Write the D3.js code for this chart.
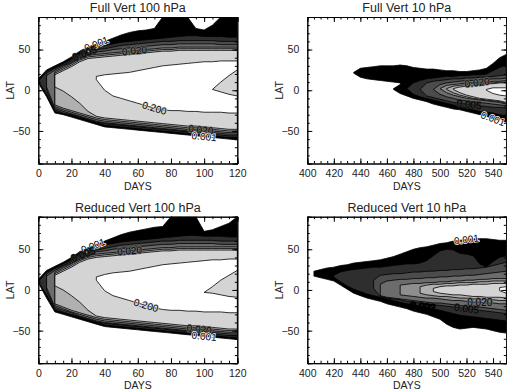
<!DOCTYPE html>
<html>
<head>
<meta charset="utf-8">
<script src="https://cdn.jsdelivr.net/npm/d3@7"></script>
<style>
body { margin: 0; background: #fff; }
svg { display: block; font-family: "Liberation Sans", Arial, sans-serif; }
</style>
</head>
<body>
<div id="chart"></div>
<script>
(function () {
	var width = 507;
	var height = 392;

	// contour levels and the fill of the region above each level
	var levelNames = ["0.001", "0.002", "0.005", "0.010", "0.020", "0.050", "0.100", "0.200"];
	var shades = ["#000000", "#2e2e2e", "#4c4c4c", "#6c6c6c", "#8e8e8e", "#b0b0b0", "#d4d4d4", "#ffffff"];

	var days100 = [0, 5, 10, 15, 20, 25, 30, 35, 40, 45, 50, 55, 60, 65, 70, 75, 80, 85, 90, 95, 100, 105, 110, 115, 120];
	var days10 = [400, 405, 410, 415, 420, 425, 430, 435, 440, 445, 450, 455, 460, 465, 470, 475, 480, 485, 490, 495,
		500, 505, 510, 515, 520, 525, 530, 535, 540, 545, 550];
	var xTicks100 = [0, 20, 40, 60, 80, 100, 120];
	var xTicks10 = [400, 420, 440, 460, 480, 500, 520, 540];
	var yTicks = [-50, 0, 50];

	// [level index, first day, upper latitude edge, lower latitude edge]
	var fullVert100 = [
		[0, 0, [14,25,30,35,41,48,53,57,60,64,68,71,73,74,76,90,90,90,90,76,74,80,90,90,90],
			[9,-8,-28,-30,-33,-36,-39,-42,-45,-46,-47,-48,-49,-50,-51,-52,-53,-54,-55,-56,-57,-58,-59,-60,-61]],
		[1, 0, [11,23,28,33,38,45,50,53,55,57,59,60,61,62,63,64,65,66,67,67,66,66,66,65,65],
			[11,-5,-26,-29,-31,-34,-37,-40,-43,-44,-45,-46,-47,-48,-49,-50,-51,-52,-53,-54,-55,-56,-57,-58,-58]],
		[2, 5, [21,27,31,36,43,47,50,51,53,55,56,57,58,59,60,60,61,61,61,61,61,60,60,60],
			[0,-24,-28,-30,-33,-36,-39,-41,-42,-43,-44,-45,-46,-47,-48,-49,-50,-51,-52,-53,-54,-55,-56,-56]],
		[3, 5, [18,25,30,34,41,45,47,48,50,51,52,53,54,55,56,56,57,57,57,57,57,56,56,56],
			[4,-22,-26,-29,-32,-35,-38,-40,-41,-42,-43,-44,-45,-46,-47,-48,-49,-50,-50,-51,-52,-53,-54,-54]],
		[4, 10, [23,28,33,39,43,44,45,46,47,48,49,50,51,52,52,53,53,53,53,53,53,53,53],
			[-20,-24,-27,-30,-33,-36,-38,-39,-40,-41,-42,-43,-44,-45,-46,-47,-48,-48,-49,-50,-51,-52,-52]],
		[5, 10, [21,26,31,37,41,42,43,44,45,46,47,48,49,50,50,51,51,51,51,51,51,51,51],
			[-18,-22,-25,-28,-31,-34,-36,-37,-38,-39,-40,-41,-42,-43,-44,-45,-46,-46,-47,-48,-49,-50,-50]],
		[6, 10, [19,24,29,35,39,40,41,42,43,44,45,46,47,48,48,49,49,49,49,49,49,49,49],
			[4,-1,-8,-16,-26,-32,-34,-35,-36,-37,-38,-39,-40,-41,-42,-43,-44,-44,-45,-46,-47,-48,-48]],
		[7, 35, [17,19,20,21,22,24,26,28,30,31,32,33,34,35,35,36,36,36],
			[13,0,-7,-10,-13,-16,-19,-22,-24,-25,-25,-26,-26,-27,-27,-27,-28,-28]],
		[6, 105, [1,10,18,25], [1,-2,-5,-7]]
	];

	var reducedVert100 = [
		[0, 0, [13,24,29,34,40,47,52,56,60,64,68,71,73,75,77,78,90,90,90,90,72,74,78,82,90],
			[9,-10,-27,-30,-33,-36,-39,-42,-45,-46,-47,-48,-49,-50,-51,-52,-53,-54,-55,-56,-57,-58,-59,-60,-61]],
		[1, 0, [10,22,27,32,37,44,49,52,55,57,59,60,61,62,63,64,65,66,67,67,66,66,66,65,65],
			[10,-6,-25,-28,-31,-34,-37,-40,-43,-44,-45,-46,-47,-48,-49,-50,-51,-52,-53,-54,-55,-56,-57,-58,-58]],
		[2, 5, [20,26,30,35,42,46,49,51,53,55,56,57,58,59,60,60,61,61,61,61,61,60,60,60],
			[-1,-23,-27,-30,-33,-36,-39,-41,-42,-43,-44,-45,-46,-47,-48,-49,-50,-51,-52,-53,-54,-55,-56,-56]],
		[3, 5, [17,24,29,33,40,44,47,48,50,51,52,53,54,55,56,56,57,57,57,57,57,56,56,56],
			[3,-21,-25,-28,-32,-35,-38,-40,-41,-42,-43,-44,-45,-46,-47,-48,-49,-50,-50,-51,-52,-53,-54,-54]],
		[4, 10, [22,27,32,38,42,44,45,46,47,48,49,50,51,52,52,53,53,53,53,53,53,53,53],
			[-19,-23,-27,-30,-33,-36,-38,-39,-40,-41,-42,-43,-44,-45,-46,-47,-48,-48,-49,-50,-51,-52,-52]],
		[5, 10, [20,25,30,36,40,42,43,44,45,46,47,48,49,50,50,51,51,51,51,51,51,51,51],
			[-17,-21,-25,-28,-31,-34,-36,-37,-38,-39,-40,-41,-42,-43,-44,-45,-46,-46,-47,-48,-49,-50,-50]],
		[6, 10, [18,23,28,34,38,40,41,42,43,44,45,46,47,48,48,49,49,49,49,49,49,49,49],
			[5,0,-7,-15,-25,-32,-34,-35,-36,-37,-38,-39,-40,-41,-42,-43,-44,-44,-45,-46,-47,-48,-48]],
		[7, 35, [16,19,21,22,23,25,27,29,31,32,33,34,35,36,37,37,38,38],
			[12,-1,-7,-10,-13,-16,-19,-22,-24,-25,-25,-26,-26,-27,-27,-27,-28,-28]],
		[6, 100, [-3,4,12,18,24], [-3,-4,-6,-8,-9]]
	];

	var fullVert10 = [
		[0, 435, [22,27,28,29,30,30,30,31,30], [21,16,14,13,12,11,10,9,6]],
		[0, 465, [2,7,30,28,27,26,26,25,24,24,23,23,24,25,27,33,40,44],
			[1,-4,-7,-10,-12,-14,-17,-19,-21,-23,-24,-26,-28,-30,-32,-35,-37,-39]],
		[1, 475, [2,9,12,14,15,16,17,17,18,18,19,19,20,24,28,31],
			[2,-5,-8,-10,-12,-14,-16,-18,-20,-22,-24,-26,-27,-28,-30,-31]],
		[2, 485, [1,9,11,12,13,14,14,15,15,16,16,17,18,19],
			[1,-7,-9,-11,-13,-15,-16,-17,-18,-19,-20,-21,-21,-22]],
		[3, 495, [1,7,9,10,11,12,12,13,13,14,14,15], [1,-5,-8,-10,-12,-13,-14,-15,-16,-17,-18,-19]],
		[4, 500, [2,6,7,8,9,9,10,10,11,11,12], [2,-3,-6,-8,-10,-11,-12,-13,-14,-15,-17]],
		[5, 505, [2,5,6,7,8,8,9,9,10,10], [1,-3,-6,-8,-10,-11,-12,-13,-14,-16]],
		[6, 510, [2,4,5,6,7,8,8,9,9], [1,-3,-6,-8,-10,-11,-12,-13,-15]],
		[7, 535, [1,3,3,3], [0,-4,-6,-7]]
	];

	var reducedVert10 = [
		[0, 405, [23,25,27,28,30,31,33,34,35,36,37,39,41,44,47,50,52,53,55,57,58,60,61,62,63,63,63,62,61,61],
			[17,15,13,11,6,1,-4,-7,-10,-12,-14,-17,-19,-21,-23,-26,-28,-30,-33,-36,-42,-46,-48,-47,-46,-47,-48,-50,-52,-53]],
		[1, 420, [18,22,24,25,26,27,28,28,29,30,31,32,32,33,36,42,48,50,49,45,44,42,32,28,35,40,42],
			[16,10,5,1,-2,-5,-7,-9,-11,-13,-15,-17,-18,-20,-21,-23,-25,-27,-29,-31,-32,-33,-34,-35,-36,-37,-38]],
		[2, 450, [12,18,19,20,20,21,22,22,23,23,24,24,25,25,26,26,27,28,30,32,34],
			[2,-8,-10,-11,-12,-14,-15,-16,-17,-18,-19,-20,-21,-22,-23,-24,-25,-26,-27,-28,-29]],
		[3, 455, [7,11,12,13,13,14,14,15,15,16,16,17,17,18,18,19,20,21,22,23],
			[-7,-9,-10,-11,-12,-13,-14,-15,-16,-16,-17,-18,-19,-20,-21,-21,-22,-23,-24,-25]],
		[4, 470, [6,7,8,8,9,9,10,10,11,11,12,12,13,13,14,14,14],
			[-6,-7,-8,-9,-10,-10,-11,-12,-13,-13,-14,-15,-15,-16,-16,-17,-17]],
		[5, 485, [4,6,7,7,8,8,9,9,9,10,10,11,11,11], [-4,-6,-7,-8,-8,-9,-10,-10,-11,-11,-12,-12,-13,-13]],
		[6, 495, [2,4,5,5,6,6,7,7,7,8,8,8], [-2,-4,-5,-6,-6,-7,-8,-8,-9,-9,-9,-10]],
		[7, 545, [3,4], [-1,-4]]
	];

	// contour labels: [layer row, edge, day]
	var labelsFull100 = [[0, "top", 35], [2, "top", 28], [4, "top", 58], [7, "bot", 70], [4, "bot", 98], [0, "bot", 100]];
	var labelsReduced100 = [[0, "top", 33], [2, "top", 27], [4, "top", 55], [7, "bot", 65], [4, "bot", 97], [0, "bot", 100]];
	var labelsFull10 = [[5, "top", 528], [3, "bot", 522], [1, "bot", 540]];
	var labelsReduced10 = [[0, "top", 520], [4, "bot", 530], [2, "bot", 520], [1, "bot", 487]];

	var panels = [
		{title: "Full Vert 100 hPa", days: days100, ticks: xTicks100, layers: fullVert100, labels: labelsFull100, col: 0, row: 0},
		{title: "Full Vert 10 hPa", days: days10, ticks: xTicks10, layers: fullVert10, labels: labelsFull10, col: 1, row: 0},
		{title: "Reduced Vert 100 hPa", days: days100, ticks: xTicks100, layers: reducedVert100, labels: labelsReduced100, col: 0, row: 1},
		{title: "Reduced Vert 10 hPa", days: days10, ticks: xTicks10, layers: reducedVert10, labels: labelsReduced10, col: 1, row: 1}
	];

	var svg = d3.select("#chart")
	   .append("svg")
	   .attr("width", width)
	   .attr("height", height)

	panels.forEach(drawPanel)

	function drawPanel(p, k) {
		var left = p.col ? 307.3 : 38.3;
		var top = p.row ? 216.7 : 17;
		var w = 199, h = 146.5;
		var d0 = p.days[0], d1 = p.days[p.days.length - 1];

		var x = d3.scaleLinear().domain([d0, d1]).range([left, left + w]);
		var y = d3.scaleLinear().domain([-90, 90]).range([top + h, top]);

		var g = svg.append("g")

		g.append("clipPath").attr("id", "clip" + k)
		  .append("rect").attr("x", left).attr("y", top).attr("width", w).attr("height", h)

		var plot = g.append("g").attr("clip-path", "url(#clip" + k + ")")

		var area = d3.area()
		  .x(function (d) { return x(d.day); })
		  .y0(function (d) { return y(d.bot); })
		  .y1(function (d) { return y(d.top); })

		var rows = p.layers.map(function (L) {
			var start = p.days.indexOf(L[1]);
			var pts = L[2].map(function (v, i) {
				return {day: p.days[start + i], top: v, bot: L[3][i]};
			});
			return {level: L[0], pts: pts};
		});

		rows.forEach(function (r) {
			plot.append("path")
			  .attr("d", area(r.pts) + "Z")
			  .attr("fill", shades[r.level])
			  .attr("stroke", "#000")
			  .attr("stroke-width", 0.8)
			  .attr("stroke-linejoin", "round")
		});

		// contour labels sit on the band edges; a thin halo breaks the line
		p.labels.forEach(function (lb) {
			var r = rows[lb[0]], edge = lb[1], day = lb[2];
			var pts = r.pts;
			for (var i = 0; i < pts.length - 1; i++) {
				if (day >= pts[i].day && day <= pts[i + 1].day) {
					var t = (day - pts[i].day) / (pts[i + 1].day - pts[i].day);
					var a = pts[i][edge], b = pts[i + 1][edge];
					var px = x(day), py = y(a + t * (b - a));
					var ang = Math.atan2(y(b) - y(a), x(pts[i + 1].day) - x(pts[i].day)) * 180 / Math.PI;
					var halo = r.level == 0 ? "#fff" : shades[r.level - 1];
					plot.append("text")
					  .attr("transform", "translate(" + px + "," + py + ") rotate(" + ang + ")")
					  .attr("text-anchor", "middle")
					  .attr("dy", "0.35em")
					  .attr("font-size", 10)
					  .attr("fill", "#000")
					  .attr("stroke", halo)
					  .attr("stroke-width", 1.5)
					  .attr("paint-order", "stroke")
					  .text(levelNames[r.level])
					break;
				}
			}
		});

		// axes, IDL style: ticks inward on all four sides
		var minorX = d3.range(d0, d1 + 0.1, 5);
		var minorY = d3.range(-90, 90.1, 10);

		g.append("g").attr("transform", "translate(0," + (top + h) + ")")
		  .call(d3.axisBottom(x).tickValues(minorX).tickSize(-2.5).tickFormat(""))
		g.append("g").attr("transform", "translate(0," + (top + h) + ")")
		  .call(d3.axisBottom(x).tickValues(p.ticks).tickSize(-5).tickPadding(6.5).tickFormat(d3.format("d")))
		g.append("g").attr("transform", "translate(0," + top + ")")
		  .call(d3.axisTop(x).tickValues(minorX).tickSize(-2.5).tickFormat(""))
		g.append("g").attr("transform", "translate(0," + top + ")")
		  .call(d3.axisTop(x).tickValues(p.ticks).tickSize(-5).tickFormat(""))

		g.append("g").attr("transform", "translate(" + left + ",0)")
		  .call(d3.axisLeft(y).tickValues(minorY).tickSize(-2.5).tickFormat(""))
		g.append("g").attr("transform", "translate(" + left + ",0)")
		  .call(d3.axisLeft(y).tickValues(yTicks).tickSize(-5).tickPadding(8).tickFormat(d3.format("d")))
		g.append("g").attr("transform", "translate(" + (left + w) + ",0)")
		  .call(d3.axisRight(y).tickValues(minorY).tickSize(-2.5).tickFormat(""))
		g.append("g").attr("transform", "translate(" + (left + w) + ",0)")
		  .call(d3.axisRight(y).tickValues(yTicks).tickSize(-5).tickFormat(""))

		g.selectAll(".domain").attr("stroke", "#000").attr("stroke-width", 1)
		g.selectAll(".tick line").attr("stroke", "#000")
		g.selectAll(".tick text").attr("font-size", 10.5).attr("fill", "#222")
		  .attr("font-family", "'Liberation Sans', Arial, sans-serif")

		g.append("text")
		  .attr("x", left + w / 2).attr("y", top - 5)
		  .attr("text-anchor", "middle").attr("font-size", 12.5).attr("fill", "#222")
		  .text(p.title)

		g.append("text")
		  .attr("x", left + w / 2).attr("y", top + h + 26)
		  .attr("text-anchor", "middle").attr("font-size", 10.5).attr("fill", "#222")
		  .text("DAYS")

		g.append("text")
		  .attr("transform", "translate(" + (left - 24) + "," + (top + h / 2) + ") rotate(-90)")
		  .attr("text-anchor", "middle").attr("font-size", 10.5).attr("fill", "#222")
		  .text("LAT")
	}

})();
</script>
</body>
</html>
